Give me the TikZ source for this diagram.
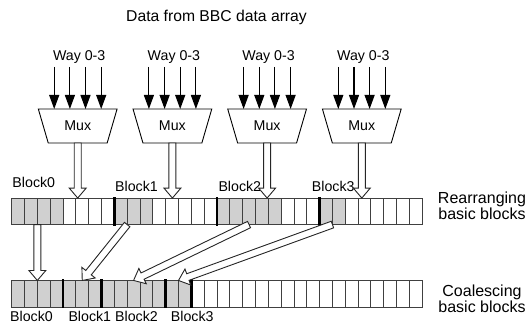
\documentclass[tikz,border=0pt]{standalone}
\usepackage{fontspec}
\setmainfont{Liberation Sans}
\usetikzlibrary{calc,positioning,shapes.geometric,arrows.meta}
\definecolor{cellgray}{HTML}{D0D0D0}
\tikzset{
  cell/.style={draw=black!75, line width=0.9pt, minimum width=12.83pt, minimum height=26.5pt, inner sep=0pt, outer sep=0pt},
  blockline/.style={line width=2.6pt},
  mux/.style={trapezium, shape border rotate=180, trapezium stretches=true, draw, line width=0.9pt, minimum width=79pt, minimum height=34pt, trapezium angle=65.5, inner sep=0pt, outer sep=0pt, font=\fontsize{14.2}{16}\selectfont},
  wayarrow/.style={line width=1.1pt, -{Triangle[length=14pt,width=10pt]}},
  hollow/.style={draw=black!85, line width=0.9pt, fill=white},
  lbl/.style={font=\fontsize{14.2}{16}\selectfont, inner sep=0pt},
  side/.style={font=\fontsize{16}{15.6}\selectfont, align=center, inner sep=0pt}
}
\newcommand\hollowarrow[2]{%
  \draw[hollow] let \p1=($(#2)-(#1)$), \n1={atan2(\y1,\x1)} in
    ($(#1)+(\n1-90:3.5pt)$) -- ($(#2)+(\n1+180:10pt)+(\n1-90:3.5pt)$)
    -- ($(#2)+(\n1+180:10pt)+(\n1-90:8.5pt)$) -- (#2)
    -- ($(#2)+(\n1+180:10pt)+(\n1+90:8.5pt)$)
    -- ($(#2)+(\n1+180:10pt)+(\n1+90:3.5pt)$)
    -- ($(#1)+(\n1+90:3.5pt)$) -- cycle;}
\begin{document}
\begin{tikzpicture}[x=1pt, y=-1pt]
\useasboundingbox (0,0) rectangle (526,324);
\node[anchor=base, font=\fontsize{15.7}{18}\selectfont] (title) at (216.5,21.7) {Data from BBC data array};
% multiplexers
\foreach \m/\x in {1/77.7, 2/172.4, 3/267.1, 4/361.8}{
  \node[mux] (mux\m) at (\x,126) {Mux};
  \node[lbl, anchor=base] (way\m) at (\x+1.5,60) {Way 0-3};
  \foreach \k in {-23.5,-7.8,7.8,23.5}
    \draw[wayarrow] ([xshift=\k pt, yshift=42pt]mux\m.north) -- ([xshift=\k pt]mux\m.north);
}
% the two rows
\foreach \i in {0,...,31}{
  \pgfmathtruncatemacro\s{(\i<4)||((\i>7)&&(\i<11))||((\i>15)&&(\i<21))||((\i>23)&&(\i<26))}
  \ifnum\s=1 \def\cfill{cellgray}\else\def\cfill{white}\fi
  \node[cell, fill=\cfill] (t\i) at (18.1+12.83*\i,211.3) {};
  \pgfmathtruncatemacro\s{\i<14}
  \ifnum\s=1 \def\cfill{cellgray}\else\def\cfill{white}\fi
  \node[cell, fill=\cfill] (b\i) at (18.1+12.83*\i,293.7) {};
}
\foreach \c in {t8,t16,t24,b4,b7,b12,b14}
  \draw[blockline] ([yshift=1pt]\c.north west) -- ([yshift=-1pt]\c.south west);
\node[lbl, anchor=base west] (tblk0) at (12.3,187.3) {Block0};
\node[lbl, anchor=base west] (tblk1) at (115,191.7) {Block1};
\node[lbl, anchor=base west] (tblk2) at (218.3,191.7) {Block2};
\node[lbl, anchor=base west] (tblk3) at (311.7,191.7) {Block3};
\node[lbl, anchor=base west] (bblk0) at (10,321.3) {Block0};
\node[lbl, anchor=base west] (bblk1) at (68.3,321.3) {Block1};
\node[lbl, anchor=base west] (bblk2) at (115,321.3) {Block2};
\node[lbl, anchor=base west] (bblk3) at (170.7,321.3) {Block3};
\node[side] (rearr) at (482,205.8) {Rearranging\\basic blocks};
\node[side] (coal) at (482,298.8) {Coalescing\\basic blocks};
% data paths
\foreach \m in {1,...,4}{
  \coordinate (in\m) at (mux\m.south |- t0.north);
  \hollowarrow{mux\m.south}{in\m}
}
\hollowarrow{t2.south west}{b2.north west}
\hollowarrow{t9.south west}{b5.north}
\hollowarrow{t18.south}{b9.north}
\hollowarrow{t25.south west}{b13.north west}
\end{tikzpicture}
\end{document}
